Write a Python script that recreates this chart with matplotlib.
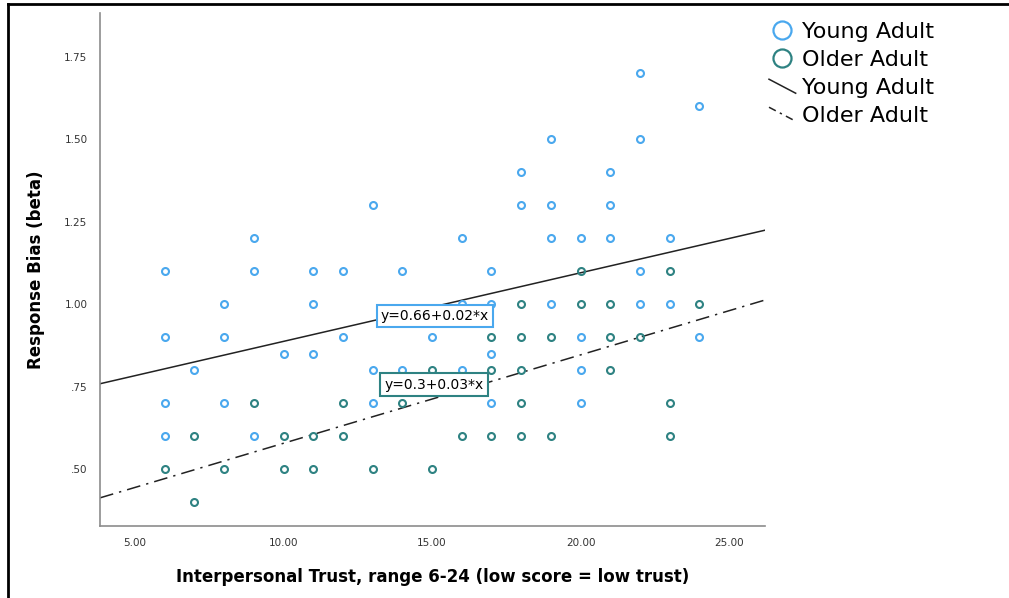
import numpy as np
import matplotlib
matplotlib.use("Agg")
import matplotlib.pyplot as plt
from matplotlib.lines import Line2D
from matplotlib.legend_handler import HandlerBase

# data
young_trust = [6, 6, 6, 6, 7, 8, 8, 8, 9, 9, 9, 10, 11, 11, 11, 12, 12,
               13, 13, 13, 14, 14, 15, 16, 16, 16, 17, 17, 17, 17, 18, 18,
               19, 19, 19, 19, 20, 20, 20, 20, 21, 21, 21, 22, 22, 22, 22,
               23, 23, 24, 24]
young_beta = [1.10, 0.90, 0.70, 0.60, 0.80, 1.00, 0.90, 0.70, 1.20, 1.10, 0.60,
              0.85, 1.10, 1.00, 0.85, 1.10, 0.90, 1.30, 0.80, 0.70, 1.10, 0.80,
              0.90, 1.20, 1.00, 0.80, 1.10, 1.00, 0.85, 0.70, 1.40, 1.30,
              1.50, 1.30, 1.20, 1.00, 1.20, 0.90, 0.80, 0.70, 1.40, 1.30, 1.20,
              1.70, 1.50, 1.10, 1.00, 1.20, 1.00, 1.60, 0.90]

older_trust = [6, 7, 7, 8, 9, 10, 10, 11, 11, 12, 12, 13, 14, 15, 15, 16,
               17, 17, 17, 18, 18, 18, 18, 18, 19, 19, 20, 20, 21, 21, 21,
               22, 23, 23, 23, 24]
older_beta = [0.50, 0.60, 0.40, 0.50, 0.70, 0.60, 0.50, 0.60, 0.50, 0.70, 0.60,
              0.50, 0.70, 0.80, 0.50, 0.60, 0.90, 0.80, 0.60, 1.00, 0.90, 0.80,
              0.70, 0.60, 0.90, 0.60, 1.10, 1.00, 1.00, 0.90, 0.80, 0.90,
              1.10, 0.70, 0.60, 1.00]

# fit lines as drawn (intercept, slope)
young_fit = (0.679, 0.0208)
older_fit = (0.310, 0.0268)
young_label = "y=0.66+0.02*x"
older_label = "y=0.3+0.03*x"

xticks = [5, 10, 15, 20, 25]
yticks = [0.50, 0.75, 1.00, 1.25, 1.50, 1.75]
ytick_labels = [".50", ".75", "1.00", "1.25", "1.50", "1.75"]

c_young = "#4aa8ee"
c_older = "#2e8282"


class DiagHandler(HandlerBase):
    # legend line drawn as a short diagonal, like SPSS does
    def create_artists(self, legend, orig_handle, xdescent, ydescent,
                       width, height, fontsize, trans):
        ln = Line2D([-xdescent, -xdescent + width],
                    [-ydescent + height * 0.95, -ydescent + height * 0.05],
                    color=orig_handle.get_color(),
                    lw=orig_handle.get_linewidth(),
                    ls=orig_handle.get_linestyle())
        if orig_handle.get_linestyle() != "-":
            ln.set_dashes((5, 3, 1.5, 3))
        ln.set_transform(trans)
        return [ln]


fig = plt.figure(figsize=(10.09, 5.98), dpi=100)
ax = fig.add_axes([100 / 1009, 72 / 598, 665 / 1009, 513 / 598])

ax.set_xlim(3.82, 26.21)
ax.set_ylim(0.327, 1.883)

ax.plot(young_trust, young_beta, "o", ms=5, mfc="none", mec=c_young, mew=1.5,
        label="Young Adult", zorder=3)
ax.plot(older_trust, older_beta, "o", ms=5, mfc="none", mec=c_older, mew=1.5,
        label="Older Adult", zorder=3)

xs = np.array(ax.get_xlim())
ly, = ax.plot(xs, young_fit[0] + young_fit[1] * xs, color="#222222", lw=1.1,
              label="Young Adult", zorder=2)
lo, = ax.plot(xs, older_fit[0] + older_fit[1] * xs, color="#222222", lw=1.1,
              ls=(0, (9, 4, 1.5, 4)), label="Older Adult", zorder=2)

ax.text(15.1, 0.964, young_label, fontsize=10, ha="center", va="center",
        zorder=5, bbox=dict(boxstyle="square,pad=0.3", fc="white",
                            ec=c_young, lw=1.5))
ax.text(15.07, 0.756, older_label, fontsize=10, ha="center", va="center",
        zorder=5, bbox=dict(boxstyle="square,pad=0.3", fc="white",
                            ec=c_older, lw=1.5))

ax.set_xticks(xticks)
ax.set_xticklabels([f"{t:.2f}" for t in xticks])
ax.set_yticks(yticks)
ax.set_yticklabels(ytick_labels)
ax.tick_params(length=0, labelsize=7.5, labelcolor="#333333", pad=9)

for s in ["top", "right"]:
    ax.spines[s].set_visible(False)
for s in ["left", "bottom"]:
    ax.spines[s].set_color("#8c8c8c")
    ax.spines[s].set_linewidth(1.2)

ax.set_xlabel("Interpersonal Trust, range 6-24 (low score = low trust)",
              fontsize=12, fontweight="bold", labelpad=14)
ax.set_ylabel("Response Bias (beta)", fontsize=12, fontweight="bold",
              labelpad=14)

handles, labels = ax.get_legend_handles_labels()
leg_handles = []
for h in handles[:2]:
    leg_handles.append(Line2D([], [], ls="none", marker="o", ms=13, mfc="none",
                              mec=h.get_markeredgecolor(), mew=1.6))
leg_handles += handles[2:]
fig.legend(leg_handles, labels, loc="upper left",
           bbox_to_anchor=(769 / 1009, 1 - 22 / 598), frameon=False,
           fontsize=16, borderpad=0, borderaxespad=0, handlelength=1.2,
           handletextpad=0.3, labelspacing=0.36,
           handler_map={ly: DiagHandler(), lo: DiagHandler()})

# screenshot frame edges (top and left)
fig.add_artist(Line2D([7.5 / 1009, 7.5 / 1009], [0, 1 - 3.5 / 598],
                      color="black", lw=2))
fig.add_artist(Line2D([7.5 / 1009, 1], [1 - 3.5 / 598, 1 - 3.5 / 598],
                      color="black", lw=2))

fig.savefig("out.png", dpi=100)
